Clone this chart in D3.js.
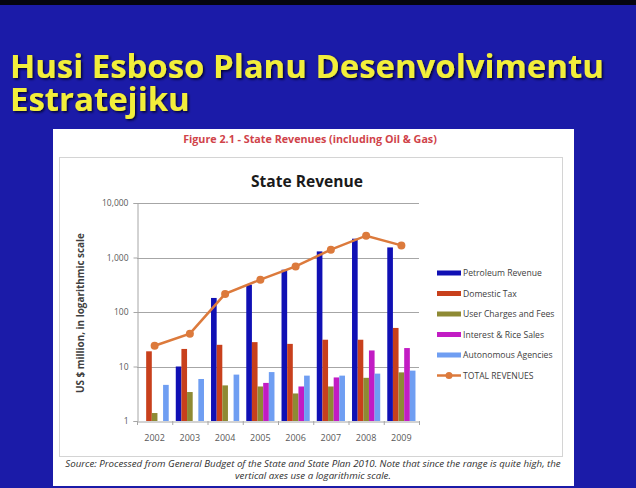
<!DOCTYPE html>
<html>
<head>
<meta charset="utf-8">
<script src="https://cdn.jsdelivr.net/npm/d3@7"></script>
<style>
  body { margin: 0; background: #1b1ba8; }
  svg { display: block; }
  .tick-label { font-family: 'Open Sans', sans-serif; font-size: 8.5px; fill: #595959; }
</style>
</head>
<body>
<div id="slide"></div>
<script>
// data
const years = ['2002', '2003', '2004', '2005', '2006', '2007', '2008', '2009']
const petroleum = [null, 10, 181, 317, 597, 1294, 2213, 1531]
const domesticTax = [19, 21, 25, 28, 26, 31, 31, 51]
const userCharges = [1.4, 3.4, 4.5, 4.3, 3.2, 4.3, 6.2, 7.8]
const interestRice = [null, null, null, 5.0, 4.3, 6.3, 19.7, 21.8]
const autonomous = [4.6, 5.9, 7.1, 7.9, 6.8, 6.8, 7.4, 8.4]
const totalRevenues = [24, 40, 215, 392, 687, 1390, 2512, 1667]
const yTicks = [1, 10, 100, 1000, 10000]

const barSeries = [
    { name: 'Petroleum Revenue', values: petroleum, color: '#1010b4' },
    { name: 'Domestic Tax', values: domesticTax, color: '#c8401c' },
    { name: 'User Charges and Fees', values: userCharges, color: '#8e8a34' },
    { name: 'Interest & Rice Sales', values: interestRice, color: '#c21cc4' },
    { name: 'Autonomous Agencies', values: autonomous, color: '#6f9ef2' },
]
const totalColor = '#dc7a3c'

const W = 636, H = 488
const svg = d3.select('#slide').append('svg').attr('width', W).attr('height', H)

const defs = svg.append('defs')
defs.append('filter').attr('id', 'shadow')
    .append('feDropShadow')
    .attr('dx', 1.5).attr('dy', 1.5).attr('stdDeviation', 0.8)
    .attr('flood-color', '#05052a').attr('flood-opacity', 0.9)

// slide background
svg.append('rect').attr('width', W).attr('height', H).attr('fill', '#1b1ba8')
svg.append('rect').attr('width', W).attr('height', 5).attr('fill', '#050510')

function fitText(sel, width) {
    const size = parseFloat(sel.attr('font-size'))
    const len = sel.node().getComputedTextLength()
    sel.attr('font-size', size * width / len)
    return size * width / len
}

// slide title, one text with a tspan per line
const titleLines = [
    { text: 'Husi Esboso Planu Desenvolvimentu', y: 78 },
    { text: 'Estratejiku', y: 111 },
]
const title = svg.append('text')
    .attr('font-family', "'Open Sans', sans-serif")
    .attr('font-weight', 'bold')
    .attr('font-size', 30).attr('fill', '#f2ee3a')
    .attr('filter', 'url(#shadow)')
const firstLine = title.append('tspan').attr('x', 10).attr('y', titleLines[0].y).text(titleLines[0].text)
const titleSize = 30 * 594 / firstLine.node().getComputedTextLength()
title.attr('font-size', titleSize)
title.append('tspan').attr('x', 10).attr('y', titleLines[1].y).text(titleLines[1].text)

// white picture panel
svg.append('rect').attr('x', 53).attr('y', 129).attr('width', 521).attr('height', 357).attr('fill', '#ffffff')

const caption = svg.append('text')
    .attr('x', 310).attr('y', 143)
    .attr('text-anchor', 'middle')
    .attr('font-family', "'Open Sans', sans-serif")
    .attr('font-size', 9).attr('font-weight', 'bold')
    .attr('fill', '#d0434a')
    .text('Figure 2.1 - State Revenues (including Oil & Gas)')
fitText(caption, 254)

// chart frame
svg.append('rect').attr('x', 59.5).attr('y', 157.5).attr('width', 503).attr('height', 299)
    .attr('fill', 'none').attr('stroke', '#d4d4d4')

const chartTitle = svg.append('text')
    .attr('x', 307).attr('y', 187)
    .attr('text-anchor', 'middle')
    .attr('font-family', "'Open Sans', sans-serif")
    .attr('font-size', 15).attr('font-weight', 'bold')
    .attr('fill', '#1a1a1a')
    .text('State Revenue')
fitText(chartTitle, 112)

// scales
const plot = { left: 137, right: 419, top: 203, bottom: 421 }
const x0 = d3.scaleBand().domain(years).range([plot.left, plot.right]).paddingInner(0.2).paddingOuter(0.1)
const x1 = d3.scaleBand().domain(barSeries.map(s => s.name)).range([0, x0.bandwidth()])
const y = d3.scaleLog().domain([1, 10000]).range([plot.bottom, plot.top])
const xCenter = d3.scalePoint().domain(years).range([plot.left, plot.right]).padding(0.5)

// gridlines
svg.append('g').selectAll('line').data(yTicks.slice(1)).enter().append('line')
    .attr('x1', plot.left).attr('x2', plot.right)
    .attr('y1', d => Math.round(y(d)) + 0.5).attr('y2', d => Math.round(y(d)) + 0.5)
    .attr('stroke', '#a6a6a6').attr('stroke-width', 1)

// y axis
const yAxis = d3.axisLeft(y).tickValues(yTicks).tickFormat(d3.format(',')).tickSize(4).tickPadding(5)
const yAxisG = svg.append('g').attr('transform', `translate(${plot.left + 0.5},0)`).call(yAxis)
yAxisG.select('.domain').attr('stroke', '#a6a6a6')
yAxisG.selectAll('.tick line').attr('stroke', '#a6a6a6')
yAxisG.selectAll('.tick text').attr('class', 'tick-label').attr('font-size', null).attr('font-family', null)

// x axis
const xAxis = d3.axisBottom(x0).tickSize(0).tickPadding(13)
const xAxisG = svg.append('g').attr('transform', `translate(0,${plot.bottom + 0.5})`).call(xAxis)
xAxisG.select('.domain').attr('stroke', '#a6a6a6')
xAxisG.selectAll('.tick text').attr('class', 'tick-label').attr('font-size', null).attr('font-family', null)
    .style('font-size', '9px')
svg.append('g').selectAll('line').data(d3.range(years.length + 1)).enter().append('line')
    .attr('x1', i => plot.left + i * x0.step() + 0.5).attr('x2', i => plot.left + i * x0.step() + 0.5)
    .attr('y1', plot.bottom).attr('y2', plot.bottom + 4)
    .attr('stroke', '#a6a6a6')

// y axis title
const yTitle = svg.append('text')
    .attr('transform', 'translate(84,313) rotate(-90)')
    .attr('text-anchor', 'middle')
    .attr('font-family', "'Open Sans', sans-serif")
    .attr('font-size', 9).attr('font-weight', 'bold')
    .attr('fill', '#404040')
    .text('US $ million, in logarithmic scale')
fitText(yTitle, 160)

// bars
barSeries.forEach(s => {
    svg.append('g').selectAll('rect')
        .data(years.map((yr, i) => ({ year: yr, value: s.values[i] })).filter(d => d.value != null))
        .enter().append('rect')
        .attr('x', d => x0(d.year) + x1(s.name))
        .attr('width', x1.bandwidth())
        .attr('y', d => y(d.value))
        .attr('height', d => y(1) - y(d.value))
        .attr('fill', s.color)
})

// total line
const totalData = years.map((yr, i) => ({ year: yr, value: totalRevenues[i] }))
svg.append('path')
    .datum(totalData)
    .attr('d', d3.line().x(d => xCenter(d.year)).y(d => y(d.value)))
    .attr('fill', 'none').attr('stroke', totalColor).attr('stroke-width', 2.5)
svg.append('g').selectAll('circle').data(totalData).enter().append('circle')
    .attr('cx', d => xCenter(d.year)).attr('cy', d => y(d.value)).attr('r', 4)
    .attr('fill', totalColor)

// legend
const legendItems = barSeries.map(s => ({ name: s.name, color: s.color, line: false }))
    .concat([{ name: 'TOTAL REVENUES', color: totalColor, line: true }])
const legend = svg.append('g').selectAll('g').data(legendItems).enter().append('g')
    .attr('transform', (d, i) => `translate(437,${273 + i * 20.5})`)
legend.filter(d => !d.line).append('rect')
    .attr('x', 0).attr('y', -2.5).attr('width', 24).attr('height', 5).attr('fill', d => d.color)
legend.filter(d => d.line).append('line')
    .attr('x1', 0).attr('x2', 24).attr('stroke', d => d.color).attr('stroke-width', 2.5)
legend.filter(d => d.line).append('circle')
    .attr('cx', 12).attr('r', 3.5).attr('fill', d => d.color)
legend.append('text')
    .attr('x', 26).attr('y', 3)
    .attr('font-family', "'Open Sans', sans-serif").attr('font-size', 8.6)
    .attr('fill', '#404040')
    .text(d => d.name)

// source note
const noteLines = [
    'Source: Processed from General Budget of the State and State Plan 2010. Note that since the range is quite high, the',
    'vertical axes use a logarithmic scale.',
]
let noteSize = 8
noteLines.forEach((line, i) => {
    const t = svg.append('text')
        .attr('x', 313).attr('y', 467 + i * 12)
        .attr('text-anchor', 'middle')
        .attr('font-family', "'Open Sans', sans-serif")
        .attr('font-size', noteSize).attr('font-style', 'italic')
        .attr('fill', '#303030')
        .text(line)
    if (i === 0) noteSize = fitText(t, 496)
})
</script>
</body>
</html>
